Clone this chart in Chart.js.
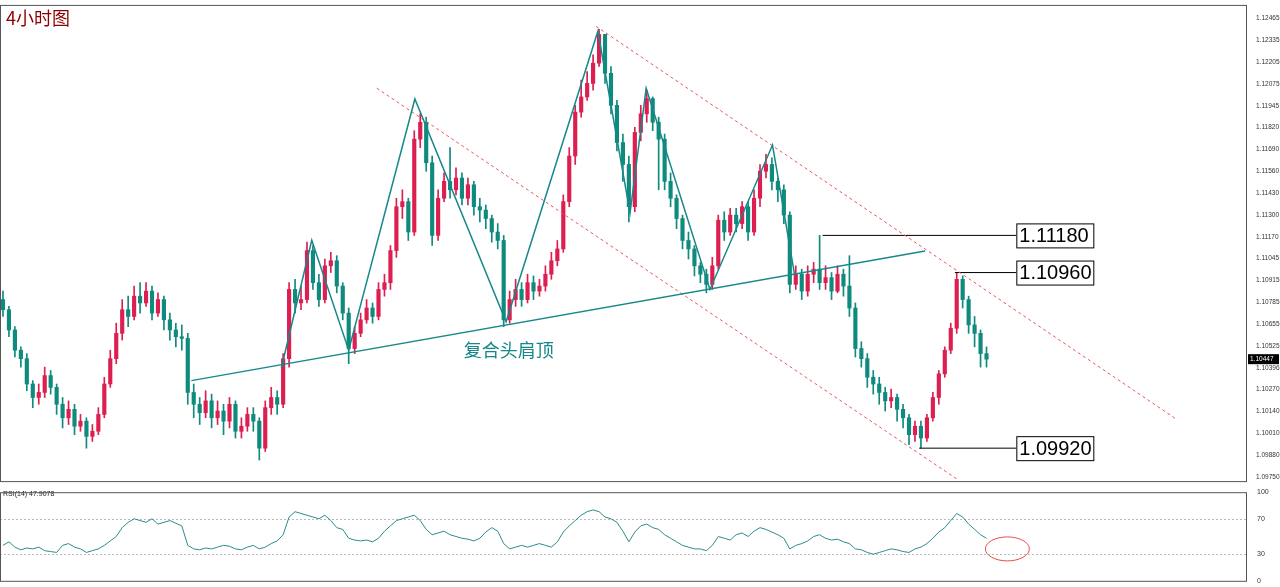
<!DOCTYPE html>
<html><head><meta charset="utf-8">
<script src="https://cdn.jsdelivr.net/npm/chart.js@4.4.1/dist/chart.umd.min.js"></script>
<style>body{margin:0;background:#fff;overflow:hidden}canvas{display:block}</style>
</head><body>
<canvas id="main" width="1280" height="486"></canvas>
<canvas id="rsi" width="1280" height="101"></canvas>
<script>
const title='4小时图';
const patternLabel='复合头肩顶';
const closes=[1.1074,1.1062,1.1050,1.1045,1.1030,1.1022,1.1025,1.1035,1.1028,1.1018,
1.1010,1.1015,1.1005,1.1008,1.0999,1.1002,1.1012,1.1030,1.1045,1.1060,
1.1074,1.1070,1.1082,1.1078,1.1085,1.1072,1.1080,1.1068,1.1062,1.1058,
1.1057,1.1025,1.1018,1.1013,1.1020,1.1010,1.1014,1.1008,1.1018,1.1002,
1.1005,1.1012,1.1008,1.0992,1.1016,1.1022,1.1018,1.1045,1.1086,1.1078,
1.1080,1.1109,1.1090,1.1080,1.1100,1.1103,1.1088,1.1072,1.1051,1.1060,
1.1068,1.1075,1.1070,1.1086,1.1090,1.1109,1.1135,1.1138,1.1120,1.1175,
1.1185,1.1161,1.1118,1.1140,1.1150,1.1145,1.1152,1.1140,1.1148,1.1135,
1.1133,1.1128,1.1120,1.1115,1.1068,1.1080,1.1086,1.1080,1.1090,1.1085,
1.1088,1.1095,1.1103,1.1110,1.1138,1.1165,1.1191,1.1200,1.1208,1.1220,
1.1237,1.1214,1.1195,1.1173,1.1160,1.1135,1.1179,1.1190,1.1199,1.1185,
1.1175,1.1150,1.1140,1.1128,1.1115,1.1110,1.1100,1.1095,1.1089,1.1100,
1.1127,1.1120,1.1130,1.1125,1.1135,1.1120,1.1140,1.1156,1.1160,1.1150,
1.1145,1.1130,1.1089,1.1095,1.1085,1.1095,1.1098,1.1090,1.1093,1.1085,
1.1095,1.1088,1.1075,1.1051,1.1045,1.1034,1.1030,1.1025,1.1020,1.1022,
1.1015,1.1010,1.1000,1.1005,1.0998,1.1010,1.1022,1.1036,1.1050,1.1063,
1.1092,1.1080,1.1065,1.1060,1.1048,1.10447];
const firstOpen=1.1080;
const highs=[1.1085,1.1076,1.1064,1.1052,1.1048,1.1032,1.1030,1.1040,1.1038,1.1030,
1.1022,1.1020,1.1018,1.1012,1.1010,1.1006,1.1016,1.1034,1.1050,1.1066,
1.1080,1.1082,1.1088,1.1090,1.1090,1.1088,1.1084,1.1082,1.1072,1.1066,
1.1065,1.1060,1.1030,1.1022,1.1026,1.1024,1.1020,1.1018,1.1022,1.1020,
1.1010,1.1016,1.1016,1.1010,1.1020,1.1028,1.1026,1.1048,1.1090,1.1092,
1.1088,1.1114,1.1112,1.1095,1.1104,1.1108,1.1106,1.1090,1.1075,1.1064,
1.1072,1.1080,1.1078,1.1090,1.1095,1.1112,1.1140,1.1145,1.1140,1.1180,
1.1190,1.1188,1.1165,1.1145,1.1155,1.1170,1.1158,1.1155,1.1152,1.1150,
1.1140,1.1136,1.1130,1.1125,1.1118,1.1085,1.1092,1.1090,1.1095,1.1094,
1.1092,1.1100,1.1108,1.1115,1.1142,1.1170,1.1195,1.1210,1.1215,1.1225,
1.1240,1.1235,1.1218,1.1198,1.1178,1.1165,1.1182,1.1195,1.1204,1.1200,
1.1188,1.1178,1.1155,1.1142,1.1130,1.1120,1.1112,1.1102,1.1098,1.1105,
1.1130,1.1132,1.1134,1.1134,1.1138,1.1138,1.1145,1.1160,1.1166,1.1164,
1.1152,1.1148,1.1132,1.1100,1.1098,1.1100,1.1102,1.1118,1.1100,1.1096,
1.1100,1.1098,1.1106,1.1078,1.1055,1.1048,1.1038,1.1034,1.1028,1.1027,
1.1024,1.1018,1.1012,1.1008,1.1008,1.1012,1.1025,1.1038,1.1052,1.1066,
1.1096,1.1094,1.1082,1.1070,1.1062,1.1052];
const lows=[1.1070,1.1058,1.1046,1.1040,1.1026,1.1016,1.1018,1.1022,1.1024,1.1012,
1.1004,1.1006,1.1000,1.1002,1.0992,1.0996,1.1000,1.1010,1.1028,1.1042,
1.1056,1.1064,1.1068,1.1072,1.1076,1.1068,1.1070,1.1062,1.1056,1.1052,
1.1050,1.1018,1.1010,1.1006,1.1010,1.1004,1.1006,1.1000,1.1004,1.0998,
1.0998,1.1002,1.1002,1.0985,1.0990,1.1012,1.1012,1.1016,1.1040,1.1072,
1.1074,1.1078,1.1086,1.1076,1.1078,1.1096,1.1084,1.1068,1.1042,1.1048,
1.1058,1.1066,1.1066,1.1068,1.1082,1.1086,1.1105,1.1128,1.1115,1.1118,
1.1170,1.1156,1.1112,1.1115,1.1138,1.1140,1.1142,1.1136,1.1136,1.1130,
1.1126,1.1122,1.1114,1.1110,1.1064,1.1066,1.1076,1.1076,1.1078,1.1080,
1.1082,1.1085,1.1092,1.1100,1.1108,1.1135,1.1160,1.1188,1.1198,1.1204,
1.1218,1.1208,1.1190,1.1168,1.1150,1.1126,1.1132,1.1174,1.1185,1.1180,
1.1145,1.1145,1.1135,1.1122,1.1110,1.1104,1.1094,1.1090,1.1084,1.1086,
1.1098,1.1115,1.1118,1.1120,1.1122,1.1115,1.1118,1.1135,1.1152,1.1145,
1.1138,1.1125,1.1084,1.1086,1.1080,1.1082,1.1090,1.1086,1.1086,1.1080,
1.1084,1.1082,1.1070,1.1046,1.1040,1.1028,1.1024,1.1018,1.1014,1.1016,
1.1008,1.1004,1.0994,1.0996,1.0992,1.0996,1.1008,1.1018,1.1034,1.1048,
1.1060,1.1075,1.1060,1.1052,1.1040,1.1040];
const rsiValues=[40,44,38,35,37,36,38,34,33,32,40,42,38,36,32,34,36,40,45,50,
60,66,70,68,66,70,64,66,68,65,62,40,36,35,37,36,38,40,39,36,
35,38,40,36,38,42,45,52,72,78,76,74,72,70,74,68,60,58,48,46,
45,46,44,48,56,62,68,70,72,74,68,58,52,54,56,52,50,48,47,45,
48,55,60,56,42,36,38,40,38,40,42,40,38,44,55,62,68,74,78,80,
78,72,70,66,56,44,55,62,64,60,58,52,48,44,40,38,36,36,34,40,
50,48,46,52,54,50,56,60,58,55,52,48,36,40,42,45,50,52,48,46,
47,44,42,36,35,32,30,32,34,36,35,33,32,36,38,42,48,55,60,68,
76,72,64,58,52,48];
const priceTicks=[1.12465,1.12335,1.12205,1.12075,1.11945,1.11820,1.11690,1.11560,1.11430,1.11300,1.11170,1.11045,1.10915,1.10785,1.10655,1.10525,1.10396,1.10270,1.10140,1.10010,1.09880,1.09750];
const rsiTicks=[0,30,70,100];
const zigzagX=[46.7,51.8,58.0,69.1,84.4,99.8,105.2,107.9,118.6,129.1,132.8];
const zigzagY=[1.10395,1.11151,1.10500,1.11988,1.10669,1.12389,1.11314,1.12052,1.10860,1.11715,1.10948];
const necklineX=[31.6,154.7], necklineY=[1.10320,1.11087];
const upperChX=[99.5,196.8], upperChY=[1.12418,1.10093];
const lowerChX=[62.7,160.0], lowerChY=[1.12052,1.09738];
const levels=[1.11180,1.10960,1.09920];
const levelStart=[137.5,159.7,153.7];
const levelEnd=170;
const lastPrice=1.10447;
const rsiLabel='RSI(14) 47.9078';

const UP='#dc1f50', DN='#0f8a7e', TEAL='#17888a';
const opens=closes.map((c,i)=>i===0?firstOpen:closes[i-1]);
const col=closes.map((c,i)=>c>=opens[i]?UP:DN);
const bodies=closes.map((c,i)=>({x:i,y:[opens[i],c===opens[i]?c+0.00002:c]}));
const wicks=closes.map((c,i)=>({x:i,y:[Math.min(lows[i],c,opens[i]),Math.max(highs[i],c,opens[i])]}));
const pts=(xs,ys)=>xs.map((x,i)=>({x,y:ys[i]}));
const XMIN=-0.5, XMAX=208.7;
const fitW=s=>{s.width=33;};

const borderPlugin={id:'bd',afterDraw(ch){const a=ch.chartArea,c=ch.ctx;c.save();c.strokeStyle='#555';c.lineWidth=1;c.strokeRect(a.left+0.5,a.top+0.5,a.right-a.left-1,a.bottom-a.top);c.restore();}};

const overlay={id:'ov',afterDatasetsDraw(ch){
 const c=ch.ctx,x=ch.scales.x,y=ch.scales.y;c.save();
 c.font='20px Arial';c.textBaseline='middle';
 levels.forEach(v=>{const px=x.getPixelForValue(levelEnd),py=y.getPixelForValue(v);
  c.fillStyle='#fff';c.fillRect(px,py-12,77,24);c.strokeStyle='#000';c.lineWidth=1;c.strokeRect(px+0.5,py-12+0.5,77,24);
  c.fillStyle='#000';c.fillText(v.toFixed(5),px+3,py+1);});
 c.font='18px "Noto Sans CJK SC"';c.fillStyle=TEAL;
 c.fillText(patternLabel,x.getPixelForValue(77.3),y.getPixelForValue(1.1050));
 c.fillStyle='#8b0000';c.font='18px "Noto Sans CJK SC"';c.fillText(title,6,18);
 const py=y.getPixelForValue(lastPrice);c.fillStyle='#000';c.fillRect(y.left+1,py-5,31,10);
 c.fillStyle='#fff';c.font='6.5px Arial';c.fillText(lastPrice.toFixed(5),y.left+3,py);
 c.restore();}};

new Chart(document.getElementById('main'),{
 type:'bar',
 data:{datasets:[
  {data:wicks,backgroundColor:col,barThickness:1,grouped:false,order:3},
  {data:bodies,backgroundColor:col,barThickness:3.5,grouped:false,order:2},
  {type:'line',data:pts(zigzagX,zigzagY),borderColor:TEAL,borderWidth:1.5,pointRadius:0,order:1},
  {type:'line',data:pts(necklineX,necklineY),borderColor:TEAL,borderWidth:1.5,pointRadius:0,order:1},
  {type:'line',data:pts(upperChX,upperChY),borderColor:'#e8555a',borderWidth:1,borderDash:[3,3],pointRadius:0,order:1},
  {type:'line',data:pts(lowerChX,lowerChY),borderColor:'#e8555a',borderWidth:1,borderDash:[3,3],pointRadius:0,order:1},
  ...levels.map((v,k)=>({type:'line',data:[{x:levelStart[k],y:v},{x:levelEnd,y:v}],borderColor:'#000',borderWidth:1,pointRadius:0,order:1}))
 ]},
 options:{responsive:false,animation:false,layout:{padding:{top:0,bottom:1,left:0,right:0}},
  plugins:{legend:{display:false},tooltip:{enabled:false}},
  scales:{x:{type:'linear',offset:false,min:XMIN,max:XMAX,display:false},
   y:{position:'right',min:1.09725,max:1.12545,afterFit:fitW,grid:{display:false},border:{display:false},
    afterBuildTicks(s){s.ticks=priceTicks.map(v=>({value:v}));},
    ticks:{autoSkip:false,font:{size:6.5,family:'Arial'},color:'#333',padding:1,callback:v=>Number(v).toFixed(5)}}}},
 plugins:[borderPlugin,overlay]});

const rsiOv={id:'ro',beforeDatasetsDraw(ch){const c=ch.ctx,x=ch.scales.x,y=ch.scales.y;c.save();
  c.strokeStyle='#bbb';c.setLineDash([2,2]);c.lineWidth=1;[70,30].forEach(v=>{const py=Math.round(y.getPixelForValue(v))+0.5;c.beginPath();c.moveTo(ch.chartArea.left,py);c.lineTo(ch.chartArea.right,py);c.stroke();});
  c.restore();},
 afterDatasetsDraw(ch){const c=ch.ctx,x=ch.scales.x,y=ch.scales.y;c.save();
  c.font='7px Arial';c.fillStyle='#222';c.textBaseline='top';c.fillText(rsiLabel,3,5);
  c.strokeStyle='#e05050';c.lineWidth=1;c.beginPath();c.ellipse(x.getPixelForValue(168.5),y.getPixelForValue(36),22,12,0,0,Math.PI*2);c.stroke();
  c.restore();}};
new Chart(document.getElementById('rsi'),{
 type:'line',
 data:{datasets:[{data:rsiValues.map((v,i)=>({x:i,y:v})),borderColor:'#2a8c8c',borderWidth:1,pointRadius:0}]},
 options:{responsive:false,animation:false,layout:{padding:{top:3,bottom:5}},
  plugins:{legend:{display:false},tooltip:{enabled:false}},
  scales:{x:{type:'linear',offset:false,min:XMIN,max:XMAX,display:false},
   y:{position:'right',min:0,max:100,afterFit:fitW,grid:{display:false},border:{display:false},
    afterBuildTicks(s){s.ticks=rsiTicks.map(v=>({value:v}));},
    ticks:{autoSkip:false,font:{size:7,family:'Arial'},color:'#333',padding:2}}}},
 plugins:[borderPlugin,rsiOv]});
</script></body></html>
